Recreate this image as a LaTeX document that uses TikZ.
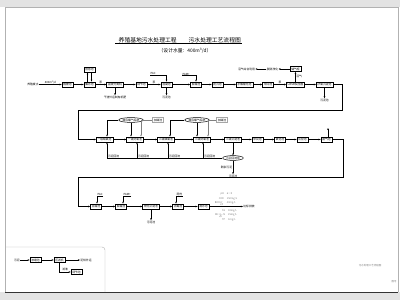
\documentclass[tikz,border=0pt]{standalone}
\usepackage{fontspec}
\setmainfont{Noto Sans CJK SC}
\usetikzlibrary{arrows.meta}
\usetikzlibrary{positioning}
\usetikzlibrary{shapes.geometric}

\begin{document}
\begin{tikzpicture}[x=1pt,y=-1pt,
	pool/.style={draw,line width=0.6pt,inner xsep=1.3pt,inner ysep=0.7pt,minimum height=5.2pt,font=\fontsize{2.8}{3}\selectfont},
	tank/.style={pool,draw=gray!70,line width=0.35pt},
	oval/.style={draw,ellipse,line width=0.5pt,inner xsep=0.3pt,inner ysep=0.2pt,minimum height=4.8pt,font=\fontsize{2.8}{3}\selectfont},
	txt/.style={inner sep=0.3pt,font=\fontsize{2.8}{3}\selectfont},
	flow/.style={line width=0.45pt,-{Stealth[length=2pt,width=1.6pt]}},
	pipe/.style={line width=0.45pt}]
		\useasboundingbox (0,0) rectangle (400,300);
		% sheet
		\fill[gray!22] (0,0) rectangle (400,300);
		\fill[white] (0,7) rectangle (400,292);
		\draw[gray!60,line width=0.4pt] (5,292) -- (5,7) -- (398,7) -- (398,292);
		\draw[black!80,line width=1pt] (5,292) -- (398,292);
		\draw[gray!60,line width=0.4pt,rounded corners=3pt] (5,247) -- (105,247) -- (105,292);
		
		% title
		\node[font=\fontsize{5.8}{6.5}\selectfont,inner sep=0.5pt,anchor=base west] (title) at (118,42) {养殖基地污水处理工程\hspace{12pt}污水处理工艺流程图};
		\draw[line width=0.5pt] ([xshift=-3pt]title.south west) -- (title.south east);
		\node[font=\fontsize{4.8}{5.5}\selectfont] (sub) at (185,51) {（设计水量：400m³/d）};
		
		% first line
		\node[txt] (raw) at (33,84.5) {养殖废水};
		\node[pool] (grid) at (67.5,84.5) {格栅池};
		\node[pool] (collect) at (89.5,84.5) {集水池};
		\node[pool] (emerg) at (89.5,69.5) {应急池};
		\node[pool] (sep) at (115,84.5) {固液分离机};
		\node[txt] (dreg) at (115,97) {干渣外运制有机肥};
		\node[pool] (adjust) at (141.5,84.5) {调节池};
		\node[pool] (coag1) at (166.5,84.5) {混凝池};
		\node[txt] (sl1) at (166.5,97) {污泥池};
		\node[txt,anchor=south west] (pac1) at (150,75.5) {PAC};
		\node[pool] (floc1) at (196,84.5) {絮凝池};
		\node[txt,anchor=south west] (pam1) at (182,75.5) {PAM+};
		\node[pool] (prim) at (217.5,84.5) {初沉池};
		\node[pool] (hydro) at (244.5,84.5) {水解酸化池};
		\node[pool] (mid1) at (268,84.5) {中间池};
		\node[pool] (uasb) at (295.5,84.5) {UASB反应器};
		\node[pool] (gas) at (295.5,69) {储气柜};
		\node[txt] (desulf) at (272.5,69) {脱硫净化};
		\node[txt] (reuse) at (246.5,69) {沼气综合利用};
		\node[pool] (sett1) at (324.5,84.5) {厌氧沉淀池};
		\node[txt] (sl2) at (324.5,100) {污泥池};
		
		\draw[flow] (raw) -- node[txt,above=0.4pt] {400m³/d} (grid);
		\draw[flow] (grid) -- (collect);
		\draw[flow] ([xshift=-2pt]collect.north) -- ([xshift=-2pt]emerg.south);
		\draw[flow] ([xshift=2pt]emerg.south) -- ([xshift=2pt]collect.north);
		\draw[flow] (collect) -- node[txt,above=0.4pt] {泵} (sep);
		\draw[flow] (sep) -- (dreg);
		\draw[flow] (sep) -- (adjust);
		\draw[flow] (adjust) -- node[txt,above=0.4pt] {泵} (coag1);
		\draw[flow] (pac1.south west) -| (coag1.north);
		\draw[flow] (coag1) -- (sl1);
		\draw[flow] (coag1) -- (floc1);
		\draw[flow] (pam1.south west) -| (floc1.north);
		\draw[flow] (floc1) -- (prim);
		\draw[flow] (prim) -- (hydro);
		\draw[flow] (hydro) -- (mid1);
		\draw[flow] (mid1) -- node[txt,above=0.4pt] {泵} (uasb);
		\draw[flow] (uasb) -- node[txt,right=0.3pt] {沼气} (gas);
		\draw[flow] (gas) -- (desulf);
		\draw[flow] (desulf) -- (reuse);
		\draw[flow] (uasb) -- (sett1);
		\draw[flow] (sett1) -- (sl2);
		
		% second line
		\node[pool] (ano1) at (104.5,139.5) {一级缺氧池};
		\node[pool] (oxi1) at (135,139.5) {一级好氧池};
		\node[pool] (ano2) at (166,139.5) {二级缺氧池};
		\node[pool] (oxi2) at (202,139.5) {二级好氧池};
		\node[pool] (sett2) at (233,139.5) {二级沉淀池};
		\node[pool] (mid2) at (257.5,139.5) {中间池};
		\node[pool] (oxid) at (280,139.5) {氧化池};
		\node[pool] (react) at (302.5,139.5) {反应池};
		\node[pool] (degas) at (326.5,139.5) {脱气池};
		\node[oval] (blow1) at (131,120) {鼓风曝气系统};
		\node[tank] (alk1) at (158,120) {加碱池};
		\node[oval] (blow2) at (197,120) {鼓风曝气系统};
		\node[tank] (alk2) at (222,120) {加碱池};
		\node[oval] (pump) at (233,158) {污泥回流泵};
		\node[txt] (sl3) at (233,176) {污泥池};
		\coordinate (turn1) at (342,110);
		\coordinate (turn2) at (78,110);
		\coordinate (vent) at (328,128);
		
		\draw[flow] (sett1) -| (turn1) -- (turn2) |- (ano1);
		\draw[flow] (ano1) -- (oxi1);
		\draw[flow] (oxi1) -- (ano2);
		\draw[flow] (ano2) -- (oxi2);
		\draw[flow] (oxi2) -- (sett2);
		\draw[flow] (sett2) -- (mid2);
		\draw[flow] (mid2) -- (oxid);
		\draw[flow] (oxid) -- (react);
		\draw[flow] (react) -- (degas);
		\draw[flow] ([xshift=1.5pt]degas.north) -- (vent);
		\draw[flow] (blow1.west) -| ([xshift=2.5pt]ano1.north);
		\draw[flow] (blow1.south) -- (blow1.south |- oxi1.north);
		\draw[flow,gray] (alk1.west) -| ([xshift=6pt]oxi1.north);
		\draw[flow] (blow2.west) -| ([xshift=4pt]ano2.north);
		\draw[flow] (blow2.south) -- (blow2.south |- oxi2.north);
		\draw[flow,gray] (alk2.west) -| ([xshift=6pt]oxi2.north);
		\draw[flow] (sett2) -- (pump);
		\draw[pipe] (pump.west) -- ([xshift=2.5pt]ano1.south |- pump.west);
		\foreach \t/\d in {ano1/2.5,oxi1/2,ano2/2,oxi2/1}
		{
			\draw[flow] ([xshift=\d pt]\t.south |- pump.west) -- node[txt,pos=0,anchor=south west,xshift=0.5pt] {污泥回流} ([xshift=\d pt]\t.south);
		}
		\draw[flow] (pump) -- node[txt,left=0.4pt] {剩余污泥} (sl3);
		
		% third line
		\node[pool] (coag2) at (96,206.5) {混凝池};
		\node[txt,anchor=south west] (pac2) at (97,196) {PAC};
		\node[pool] (floc2) at (121,206.5) {絮凝池};
		\node[txt,anchor=south west] (pam2) at (123,196) {PAM+};
		\node[pool] (sett3) at (151,206.5) {物化沉淀池};
		\node[txt] (sl4) at (151,222) {污泥池};
		\node[pool] (disinf) at (178,206.5) {消毒池};
		\node[txt,anchor=south west] (agent) at (176,196) {药剂};
		\node[pool] (clear) at (203.5,206.5) {清水池};
		\node[txt] (out) at (249,206.5) {达标排放};
		\node[txt,text=gray,anchor=south,font=\fontsize{2.5}{4.3}\selectfont] (stdA) at (226,205.5) {\begin{tabular}{@{}r@{\hspace{3pt}}l@{}}pH & 6～9\\ COD & 150mg/L\\ BOD$_5$ & 40mg/L\end{tabular}};
		\node[txt,text=gray,anchor=north,font=\fontsize{2.5}{4.3}\selectfont] (stdB) at (226,208) {\begin{tabular}{@{}r@{\hspace{3pt}}l@{}}SS & 30mg/L\\ NH$_3$-N & 25mg/L\\ TP & 3mg/L\end{tabular}};
		\coordinate (turn3) at (343,177);
		\coordinate (turn4) at (78,177);
		
		\draw[flow] (degas) -| (turn3) -- (turn4) |- (coag2);
		\draw[flow] (pac2.south east) -- (pac2.south west) -- (pac2.south west |- coag2.north);
		\draw[flow] (pam2.south east) -- (pam2.south west) -- (pam2.south west |- floc2.north);
		\draw[flow] (agent.south east) -- (agent.south west) -- (agent.south west |- disinf.north);
		\draw[flow] (coag2) -- (floc2);
		\draw[flow] (floc2) -- (sett3);
		\draw[flow] (sett3) -- (sl4);
		\draw[flow] (sett3) -- (disinf);
		\draw[flow] (disinf) -- (clear);
		\draw[flow] (clear) -- (out);
		
		% sludge line
		\node[txt] (sludge) at (17,260) {污泥};
		\node[pool] (thick) at (35.5,260) {浓缩池};
		\node[pool] (press) at (59.5,260) {压滤机};
		\node[txt] (cake) at (86,260) {泥饼外运};
		\node[pool] (back) at (76.5,272) {调节池};
		\draw[flow] (sludge) -- (thick);
		\draw[flow] (thick) -- (press);
		\draw[flow] (press) -- (cake);
		\draw[flow] (press.south) |- node[txt,above=0.3pt,pos=0.75] {滤液} (back.west);
		
		% notes
		\node[txt,text=gray,font=\fontsize{2.5}{3}\selectfont] (note) at (370,266) {污水处理工艺流程图};
		\node[txt,text=gray,font=\fontsize{2.5}{3}\selectfont] (dwg) at (394,282) {图号};
	\end{tikzpicture}
\end{document}
